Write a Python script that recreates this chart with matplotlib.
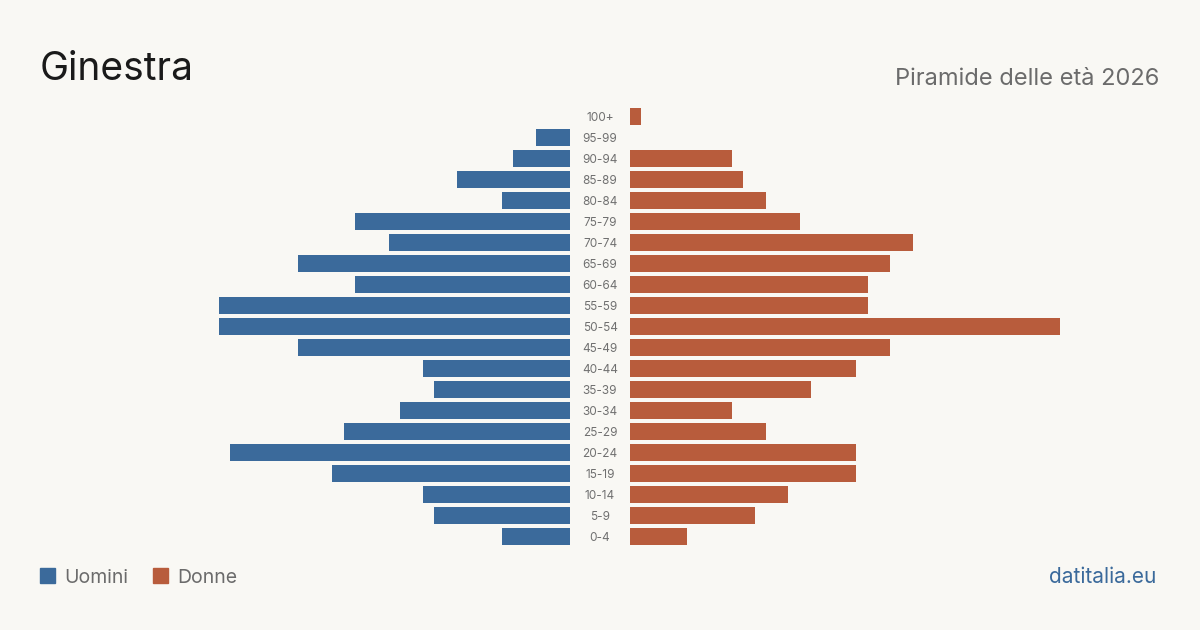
import matplotlib.pyplot as plt
from matplotlib.patches import Rectangle
import matplotlib.transforms as mtransforms

plt.rcParams['font.family'] = ['Inter', 'DejaVu Sans']

# age groups, top to bottom
age_groups = ['100+', '95-99', '90-94', '85-89', '80-84', '75-79', '70-74',
              '65-69', '60-64', '55-59', '50-54', '45-49', '40-44', '35-39',
              '30-34', '25-29', '20-24', '15-19', '10-14', '5-9', '0-4']
uomini = [0, 3, 5, 10, 6, 19, 16, 24, 19, 31, 31, 24, 13, 12, 15, 20, 30, 21, 13, 12, 6]
donne = [1, 0, 9, 10, 12, 15, 25, 23, 21, 21, 38, 23, 20, 16, 9, 12, 20, 20, 14, 11, 5]

blue = '#3b6a9b'
red = '#b85c3c'
bg = '#f9f8f4'

W, H = 1200, 630
fig = plt.figure(figsize=(12, 6.3), dpi=100, facecolor=bg)

bottom = 1 - 547 / H
height = 441 / H
axL = fig.add_axes([40 / W, bottom, 530 / W, height])
axR = fig.add_axes([630 / W, bottom, 530 / W, height])

xmax = 530 / 11.32
ys = list(range(len(age_groups)))

axL.barh(ys, uomini, height=0.81, color=blue)
axR.barh(ys, donne, height=0.81, color=red)

for ax in (axL, axR):
    ax.set_ylim(len(age_groups) - 0.5, -0.5)
    ax.set_facecolor('none')
    ax.axis('off')
axL.set_xlim(xmax, 0)
axR.set_xlim(0, xmax)

trans = mtransforms.blended_transform_factory(fig.transFigure, axL.transData)
for y, lab in zip(ys, age_groups):
    fig.text(600 / W, y + 0.06, lab, transform=trans, ha='center', va='center',
             fontsize=8.5, color='#707070')

fig.text(40 / W, 1 - 80 / H, 'Ginestra', fontsize=28, color='#1a1a1a',
         ha='left', va='baseline')
fig.text(1159 / W, 1 - 85 / H, 'Piramide delle età 2026', fontsize=17,
         color='#6b6b6b', ha='right', va='baseline')

# legend
fig.patches.append(Rectangle((40 / W, 1 - 583 / H), 15 / W, 15 / H,
                             transform=fig.transFigure, color=blue))
fig.text(64 / W, 1 - 583 / H, 'Uomini', fontsize=14, color='#6b6b6b',
         ha='left', va='baseline')
fig.patches.append(Rectangle((153 / W, 1 - 583 / H), 15 / W, 15 / H,
                             transform=fig.transFigure, color=red))
fig.text(177 / W, 1 - 583 / H, 'Donne', fontsize=14, color='#6b6b6b',
         ha='left', va='baseline')

fig.text(1156 / W, 1 - 583 / H, 'datitalia.eu', fontsize=15, color=blue,
         ha='right', va='baseline')

fig.savefig('out.png', dpi=100, facecolor=bg)
